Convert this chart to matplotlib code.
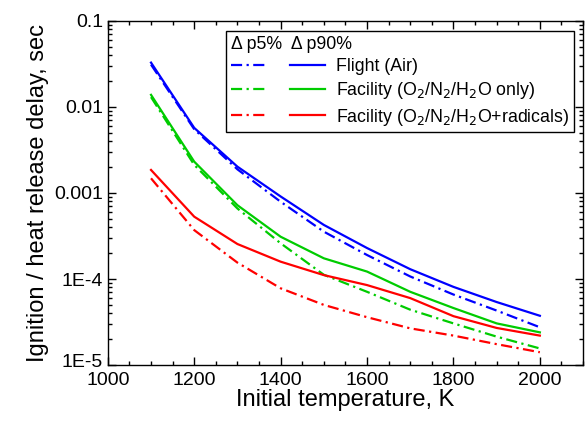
import numpy as np
import matplotlib
matplotlib.use("Agg")
import matplotlib.pyplot as plt
from matplotlib.ticker import FixedLocator, MultipleLocator, LogLocator, FixedFormatter, NullFormatter
from matplotlib.legend_handler import HandlerTuple
from matplotlib.transforms import ScaledTranslation

plt.rcParams['font.family'] = ['Liberation Sans', 'DejaVu Sans']

# initial temperature, K
temp = [1100, 1200, 1300, 1400, 1500, 1600, 1700, 1800, 1900, 2000]

# delay, sec  (p5 = dash-dot, p90 = solid)
flight_p5 = [0.031, 0.0055, 0.00188, 0.00079, 0.000355, 0.00019, 0.000107, 6.6e-5, 4.3e-5, 2.75e-5]
flight_p90 = [0.0327, 0.0057, 0.00202, 0.00091, 0.000425, 0.000229, 0.00013, 8.1e-5, 5.4e-5, 3.74e-5]
fac_p5 = [0.013, 0.00212, 0.00066, 0.00026, 0.000112, 7.1e-5, 4.4e-5, 3.05e-5, 2.14e-5, 1.56e-5]
fac_p90 = [0.0138, 0.00231, 0.00072, 0.00031, 0.000174, 0.000122, 7.1e-5, 4.6e-5, 3.05e-5, 2.4e-5]
rad_p5 = [0.00148, 0.00037, 0.000155, 7.8e-5, 5.0e-5, 3.6e-5, 2.67e-5, 2.2e-5, 1.75e-5, 1.41e-5]
rad_p90 = [0.00185, 0.00053, 0.000255, 0.000159, 0.000111, 8.5e-5, 6.0e-5, 3.7e-5, 2.7e-5, 2.2e-5]

labels = ['Flight (Air)',
          'Facility (O$_2$/N$_2$/H$_2$O only)',
          'Facility (O$_2$/N$_2$/H$_2$O+radicals)']
colors = ['#0000ff', '#00cc00', '#ff0000']

ytick_vals = [1e-5, 1e-4, 1e-3, 1e-2, 1e-1]
ytick_labels = ['1E-5', '1E-4', '0.001', '0.01', '0.1']

fig = plt.figure(figsize=(5.86, 4.25), dpi=100)
ax = fig.add_axes([0.184, 0.141, 0.811, 0.81])

dashdot = (0, (5, 2, 1, 2))
handles = []
for p5, p90, c in zip([flight_p5, fac_p5, rad_p5], [flight_p90, fac_p90, rad_p90], colors):
    h1, = ax.plot(temp, p5, color=c, lw=1.6, linestyle=dashdot)
    h2, = ax.plot(temp, p90, color=c, lw=1.6, linestyle='-')
    handles.append((h1, h2))

ax.set_yscale('log')
ax.set_xlim(1000, 2100)
ax.set_ylim(1e-5, 0.1)
ax.xaxis.set_major_locator(FixedLocator([1000, 1200, 1400, 1600, 1800, 2000]))
ax.xaxis.set_minor_locator(MultipleLocator(50))
ax.yaxis.set_major_locator(FixedLocator(ytick_vals))
ax.yaxis.set_major_formatter(FixedFormatter(ytick_labels))
ax.yaxis.set_minor_locator(LogLocator(base=10, subs=np.arange(2, 10)))
ax.yaxis.set_minor_formatter(NullFormatter())
ax.tick_params(which='both', direction='in', top=True, right=True, labelsize=14, width=1)
ax.tick_params(which='major', length=6)
ax.tick_params(which='minor', length=3)
ax.tick_params(axis='x', pad=5)
for s in ax.spines.values():
    s.set_linewidth(1)

# nudge the bottom y label up a little so it clears "1000"
lab0 = ax.yaxis.get_major_ticks()[0].label1
lab0.set_transform(lab0.get_transform() + ScaledTranslation(0, 3 / 72, fig.dpi_scale_trans))

ax.set_xlabel('Initial temperature, K', fontsize=17, labelpad=0)
ax.set_ylabel('Ignition / heat release delay, sec', fontsize=17, labelpad=4)

leg = ax.legend(handles, labels, handler_map={tuple: HandlerTuple(ndivide=2, pad=1.3)},
                loc='upper right', bbox_to_anchor=(0.98, 0.97), fontsize=12.8,
                title='\u0394 p5%  \u0394 p90%', title_fontsize=12.8, alignment='left',
                handlelength=5.3, handletextpad=0.6, labelspacing=0.3,
                borderpad=0.25, borderaxespad=0, fancybox=False, framealpha=1,
                edgecolor='black')
leg.get_frame().set_linewidth(1)

fig.savefig('out.png', dpi=100)
